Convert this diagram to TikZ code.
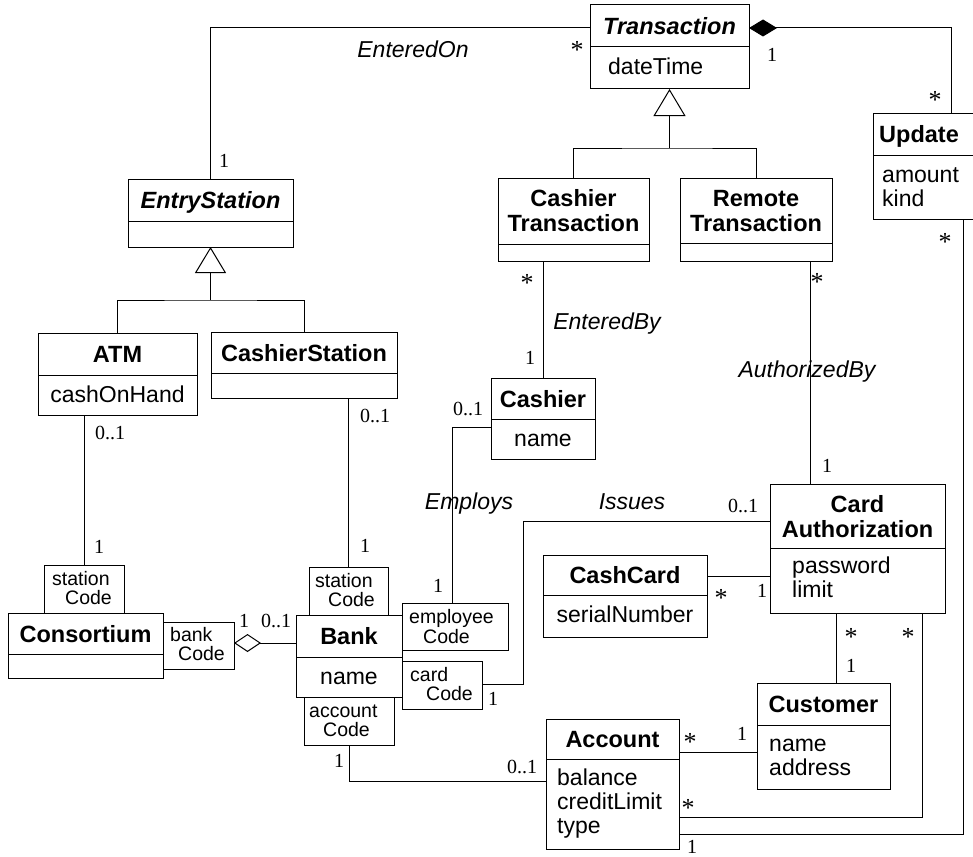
\documentclass[tikz,border=0pt]{standalone}
\usepackage{fontspec}
\setmainfont{Liberation Sans}
\newfontfamily\multfont{Liberation Serif}
\usetikzlibrary{arrows.meta}
\tikzset{
  clsbox/.style={draw, line width=1pt, rectangle, inner sep=0pt, outer sep=0pt, anchor=north west},
  qbox/.style={draw, line width=1pt, rectangle, inner sep=0pt, outer sep=0pt, anchor=north west, fill=white},
  clsline/.style={line width=1pt},
  conn/.style={line width=1pt},
  hd/.style={inner sep=0pt, anchor=base, yshift=-8.5pt, font=\fontsize{23.5}{25}\selectfont\bfseries},
  hdi/.style={hd, font=\fontsize{23.5}{25}\selectfont\bfseries\itshape},
  attrc/.style={inner sep=0pt, anchor=base, yshift=-7pt, font=\fontsize{23}{24}\selectfont},
  attrw/.style={attrc, anchor=base west},
  qt/.style={inner sep=0pt, anchor=base west, yshift=-6pt, font=\fontsize{19.5}{19}\selectfont},
  asc/.style={inner sep=0pt, anchor=base, yshift=-7.5pt, font=\fontsize{23}{24}\selectfont\itshape},
  mlt/.style={inner sep=0pt, anchor=base, yshift=-7pt, font=\multfont\fontsize{20}{20}\selectfont},
  str/.style={inner sep=0pt, anchor=base, yshift=-13pt, font=\multfont\fontsize{26}{26}\selectfont},
}
\newcommand\mkclass[6]{%
  \node[clsbox, minimum width={#4pt-#2pt}, minimum height={#6pt-#3pt}] (#1) at (#2,#3) {};
  \draw[clsline] (#1.west|-0,#5) -- (#1.east|-0,#5);
}
\newcommand\mkqual[5]{%
  \node[qbox, minimum width={#4pt-#2pt}, minimum height={#5pt-#3pt}] (#1) at (#2,#3) {};
}
\begin{document}
\begin{tikzpicture}[x=1pt,y=-1pt]
\useasboundingbox (0,0) rectangle (973,856);
\clip (0,0) rectangle (973,856);
\fill[white] (0,0) rectangle (973,856);

\coordinate (tj) at (669.5,148);
\coordinate (ej) at (210.5,300);
\coordinate (isc) at (523,521);

% ---------- classes ----------
\mkclass{trans}{590}{5}{749}{47}{89}
\mkclass{update}{873}{113}{995}{155}{219}
\mkclass{cashtr}{498}{178}{649}{244}{261}
\mkclass{remtr}{680}{178}{832}{243}{261}
\mkclass{entry}{128}{179}{293}{221}{247}
\mkclass{atm}{38}{333}{197}{375}{415}
\mkclass{cstat}{211}{332}{397}{373}{398}
\mkclass{cashier}{491}{378}{595}{419}{459}
\mkclass{cardauth}{770}{484}{945}{548}{613}
\mkclass{cashcard}{543}{555}{707}{595}{637}
\mkclass{customer}{757}{683}{890}{725}{789}
\mkclass{account}{546}{719}{679}{759}{849}
\mkclass{consort}{8}{613}{163}{654}{678}
\mkclass{bank}{296}{615}{402}{657}{697}

% ---------- qualifiers ----------
\mkqual{qcs}{44}{565}{124}{613}
\mkqual{qbs}{309}{567}{388}{615}
\mkqual{qbc}{163}{622}{234}{669}
\mkqual{qec}{402}{603}{508}{650}
\mkqual{qcc}{402}{661}{482}{709}
\mkqual{qac}{304}{697}{394}{745}

% ---------- connectors ----------
\draw[conn] (entry.north) |- (trans.west|-0,28);
\draw[conn, {Diamond[length=28pt,width=17pt]}-] (trans.east|-0,28) -| (update.north-|951,0);
\draw[conn, {Triangle[open,length=27pt,width=32pt]}-] (trans.south) -- (tj);
\draw[conn] (cashtr.north) |- (tj) -| (remtr.north);
\draw[conn, {Triangle[open,length=26pt,width=31pt]}-] (entry.south) -- (ej);
\draw[conn] (atm.north) |- (ej) -| (cstat.north);
\draw[conn] (atm.south-|qcs.north) -- (qcs.north);
\draw[conn] (cstat.south-|qbs.north) -- (qbs.north);
\draw[conn, {Diamond[open,fill=white,length=27pt,width=18pt]}-] (qbc.east|-0,643) -- (bank.west|-0,643);
\draw[conn] (cashtr.south-|cashier.north) -- (cashier.north);
\draw[conn] (cashier.west|-0,427) -| (qec.north-|452,0);
\draw[conn] (remtr.south-|810,0) -- (cardauth.north-|810,0);
\draw[conn] (qcc.east|-0,684) -| (isc) -- (cardauth.west|-isc);
\draw[conn] (cashcard.east|-0,576) -- (cardauth.west|-0,576);
\draw[conn] (cardauth.south-|836,0) -- (customer.north-|836,0);
\draw[conn] (cardauth.south-|922,0) |- (account.east|-0,817);
\draw[conn] (account.east|-0,752) -- (customer.west|-0,752);
\draw[conn] (qac.south) |- (account.west|-0,781);
\draw[conn] (update.south-|963,0) |- (account.east|-0,834);

% ---------- class texts ----------
\node[hdi] (h1) at (669.5,26) {Transaction};
\node[attrw] (a1) at (608,68) {dateTime};
\node[hd, anchor=base west] (h2) at (879,134) {Update};
\node[attrw] (a2) at (882,175) {amount};
\node[attrw] (a3) at (882,199) {kind};
\node[hd] (h3) at (573.5,198) {Cashier};
\node[hd] (h4) at (573.5,223) {Transaction};
\node[hd] (h5) at (756,198) {Remote};
\node[hd] (h6) at (756,223) {Transaction};
\node[hdi] (h7) at (210.5,200) {EntryStation};
\node[hd] (h8) at (117.5,354) {ATM};
\node[attrc] (a4) at (117.5,395) {cashOnHand};
\node[hd] (h9) at (304,352.5) {CashierStation};
\node[hd] (h10) at (543,398.5) {Cashier};
\node[attrc] (a5) at (543,439) {name};
\node[hd] (h11) at (857.5,503.5) {Card};
\node[hd] (h12) at (857.5,528.5) {Authorization};
\node[attrw] (a6) at (792,566) {password};
\node[attrw] (a7) at (792,590) {limit};
\node[hd] (h13) at (625,575) {CashCard};
\node[attrc] (a8) at (625,615) {serialNumber};
\node[hd] (h14) at (823.5,704) {Customer};
\node[attrw] (a9) at (769,744) {name};
\node[attrw] (a10) at (769,768) {address};
\node[hd] (h15) at (612.5,739) {Account};
\node[attrw] (a11) at (557,778) {balance};
\node[attrw] (a12) at (557,802) {creditLimit};
\node[attrw] (a13) at (557,826) {type};
\node[hd] (h16) at (85.5,633.5) {Consortium};
\node[hd] (h17) at (349,636) {Bank};
\node[attrc] (a14) at (349,677) {name};

% ---------- qualifier texts ----------
\node[qt] (q1) at (52,579) {station};
\node[qt] (q2) at (65,598) {Code};
\node[qt] (q3) at (315,581) {station};
\node[qt] (q4) at (328,600) {Code};
\node[qt] (q5) at (170,635) {bank};
\node[qt] (q6) at (178,654) {Code};
\node[qt] (q7) at (409,617) {employee};
\node[qt] (q8) at (423,637) {Code};
\node[qt] (q9) at (410,675) {card};
\node[qt] (q10) at (426,694) {Code};
\node[qt] (q11) at (309,711) {account};
\node[qt] (q12) at (323,730) {Code};

% ---------- association names ----------
\node[asc] (n1) at (413,50) {EnteredOn};
\node[asc] (n2) at (607,322) {EnteredBy};
\node[asc] (n3) at (807,370) {AuthorizedBy};
\node[asc] (n4) at (469,502) {Employs};
\node[asc] (n5) at (632,502) {Issues};

% ---------- multiplicities ----------
\node[str] (m1) at (577,46) {*};
\node[mlt] (m2) at (224,160) {1};
\node[mlt] (m3) at (772,55) {1};
\node[str] (m4) at (935,95) {*};
\node[str] (m5) at (527,278) {*};
\node[mlt] (m6) at (530,357) {1};
\node[str] (m7) at (817,277) {*};
\node[mlt] (m8) at (827,465) {1};
\node[str] (m9) at (945,237) {*};
\node[mlt] (m10) at (692,846) {1};
\node[mlt] (m11) at (110,432) {0..1};
\node[mlt] (m12) at (99,546) {1};
\node[mlt] (m13) at (375,415) {0..1};
\node[mlt] (m14) at (365,545) {1};
\node[mlt] (m15) at (244,620) {1};
\node[mlt] (m16) at (276,620) {0..1};
\node[mlt] (m17) at (468,408) {0..1};
\node[mlt] (m18) at (438,585) {1};
\node[mlt] (m19) at (493,698) {1};
\node[mlt] (m20) at (743,505) {0..1};
\node[str] (m21) at (721,593) {*};
\node[mlt] (m22) at (762,590) {1};
\node[str] (m23) at (851,632) {*};
\node[mlt] (m24) at (851,665) {1};
\node[str] (m25) at (908,632) {*};
\node[str] (m26) at (688,803) {*};
\node[str] (m27) at (690,737) {*};
\node[mlt] (m28) at (742,733) {1};
\node[mlt] (m29) at (339,760) {1};
\node[mlt] (m30) at (522,766) {0..1};
\end{tikzpicture}
\end{document}
